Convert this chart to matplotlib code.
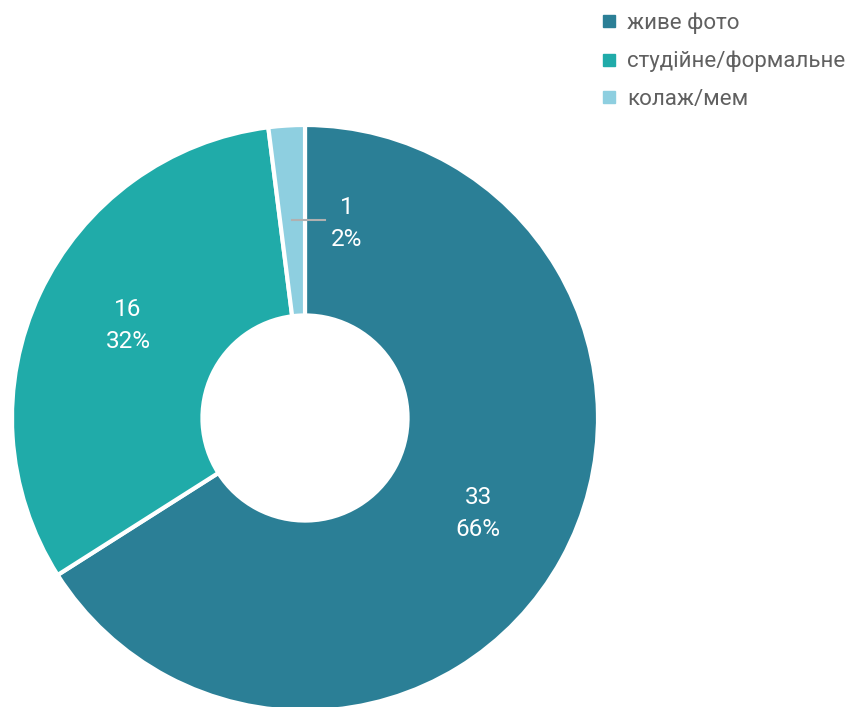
import matplotlib.pyplot as plt
from matplotlib.lines import Line2D

plt.rcParams['font.family'] = ['Roboto', 'DejaVu Sans']

# data
categories = ['живе фото', 'студійне/формальне', 'колаж/мем']
counts = [33, 16, 1]
colors = ['#2b7f96', '#20aba9', '#8ecfe0']

total = sum(counts)
pcts = [round(100 * c / total) for c in counts]

fig = plt.figure(figsize=(8.58, 7.07), dpi=100)
ax = fig.add_axes([0, 0, 1, 1])

cx, cy, R = 305, 418, 293
# y axis is inverted below, so counterclock in data = clockwise on screen
wedges, _ = ax.pie(counts, colors=colors, startangle=270, counterclock=True,
                   center=(cx, cy), radius=R, frame=True,
                   wedgeprops=dict(width=R * 0.65, edgecolor='white', linewidth=3))
ax.set_xlim(0, 858)
ax.set_ylim(707, 0)
ax.set_aspect('equal')
ax.axis('off')

# labels (positions in pixel coords)
label_pos = [(478, 514), (128, 326), (347, 223)]
for (x, y), c, p in zip(label_pos, counts, pcts):
    ax.text(x, y, f'{c}\n{p}%', color='white', fontsize=17.5, ha='center', va='center',
            linespacing=1.5)

# leader line for small slice
ax.plot([292, 325], [220, 220], color='#b0b0b0', lw=1.5)

handles = [Line2D([], [], marker='s', color=col, linestyle='', markersize=9) for col in colors]
leg = ax.legend(handles, categories, loc='upper left', bbox_to_anchor=(0.684, 1.004),
                frameon=False, fontsize=16, handlelength=0.6, handletextpad=0.5,
                labelspacing=0.75, borderaxespad=0.3)
for t in leg.get_texts():
    t.set_color('#606060')

fig.savefig('out.png', dpi=100)
